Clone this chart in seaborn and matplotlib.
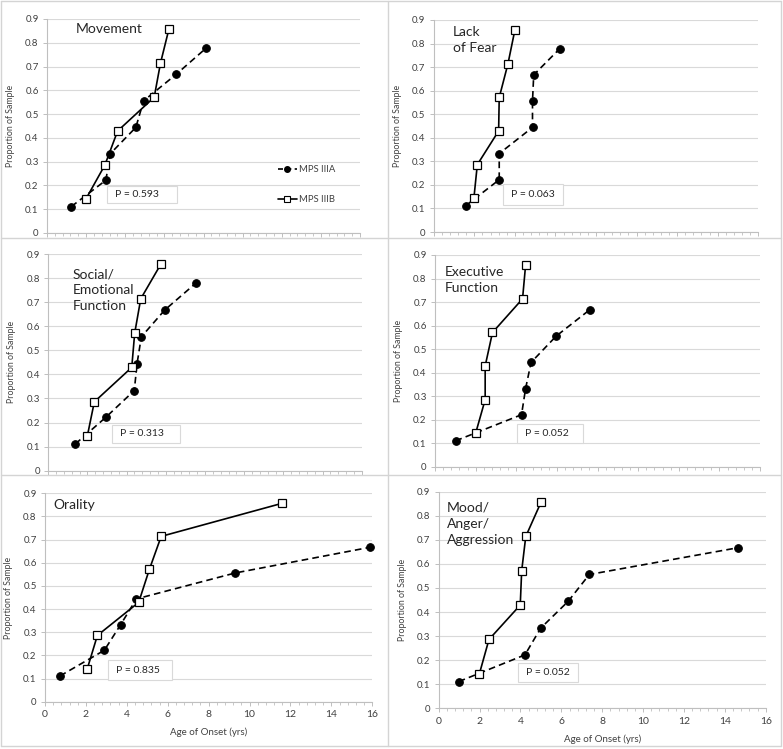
import matplotlib
matplotlib.use('Agg')  # no display available
import matplotlib.pyplot as plt
import matplotlib.ticker as mticker
from matplotlib.lines import Line2D
from matplotlib.patches import Rectangle
import numpy as np
import pandas as pd
import seaborn as sns

# ---- data ----
panel_titles = ["Movement", "Lack\nof Fear", "Social/\nEmotional\nFunction",
                "Executive\nFunction", "Orality", "Mood/\nAnger/\nAggression"]
p_values = ["P = 0.593", "P = 0.063", "P = 0.313", "P = 0.052", "P = 0.835", "P = 0.052"]

iiia_prop_7 = [0.111, 0.222, 0.333, 0.444, 0.556, 0.667, 0.778]
iiia_prop_6 = [0.111, 0.222, 0.333, 0.444, 0.556, 0.667]
iiib_prop = [0.143, 0.286, 0.429, 0.571, 0.714, 0.857]

movement_a_age = [1.24, 3.01, 3.23, 4.54, 4.94, 6.60, 8.14]
movement_b_age = [1.99, 2.96, 3.61, 5.48, 5.80, 6.23]
fear_a_age = [1.57, 3.23, 3.23, 4.87, 4.87, 4.93, 6.21]
fear_b_age = [1.98, 2.15, 3.20, 3.23, 3.66, 4.00]
social_a_age = [1.38, 2.94, 4.39, 4.53, 4.75, 5.94, 7.52]
social_b_age = [1.99, 2.35, 4.26, 4.41, 4.72, 5.74]
exec_a_age = [1.01, 4.26, 4.46, 4.73, 5.97, 7.61]
exec_b_age = [2.00, 2.47, 2.47, 2.83, 4.31, 4.46]
orality_a_age = [0.73, 2.90, 3.70, 4.47, 9.30, 15.90]
orality_b_age = [2.07, 2.56, 4.58, 5.10, 5.68, 11.60]
mood_a_age = [0.98, 4.22, 4.99, 6.33, 7.37, 14.63]
mood_b_age = [1.99, 2.46, 3.99, 4.06, 4.26, 5.01]

iiia_ages = [movement_a_age, fear_a_age, social_a_age, exec_a_age, orality_a_age, mood_a_age]
iiib_ages = [movement_b_age, fear_b_age, social_b_age, exec_b_age, orality_b_age, mood_b_age]
iiia_props = [iiia_prop_7, iiia_prop_7, iiia_prop_7, iiia_prop_6, iiia_prop_6, iiia_prop_6]

y_ticks = [0, 0.1, 0.2, 0.3, 0.4, 0.5, 0.6, 0.7, 0.8, 0.9]
y_tick_labels = ["0", "0.1", "0.2", "0.3", "0.4", "0.5", "0.6", "0.7", "0.8", "0.9"]
x_ticks = [0, 2, 4, 6, 8, 10, 12, 14, 16]

rows = []
for i, title in enumerate(panel_titles):
    for k, (a, p) in enumerate(zip(iiia_ages[i], iiia_props[i])):
        rows.append((i, "MPS IIIA", k, a, p))
    for k, (a, p) in enumerate(zip(iiib_ages[i], iiib_prop)):
        rows.append((i, "MPS IIIB", k, a, p))
df = pd.DataFrame(rows, columns=["panel", "group", "order", "age", "proportion"])

# ---- layout (pixels in the 783x749 image) ----
W, H = 783, 749
# left, top, right, bottom of each plot area
axes_px = [(47, 19, 360, 233), (433.7, 20, 758.3, 232),
           (48.3, 254, 361.7, 470.7), (435, 255, 760, 467),
           (45, 493.3, 372.3, 701.7), (438.7, 491.7, 765.7, 708.3)]
title_px = [(76, 23), (453, 26), (73, 268), (445, 266), (53, 499), (447, 502)]
# p-value boxes in axes fraction: x, y, w, h
pbox = [(0.192, 0.140, 0.224, 0.079), (0.213, 0.127, 0.185, 0.099),
        (0.203, 0.128, 0.217, 0.083), (0.252, 0.113, 0.203, 0.090),
        (0.192, 0.104, 0.196, 0.096), (0.243, 0.121, 0.183, 0.088)]

sns.set_theme(style="white")
plt.rcParams['font.family'] = ['Lato', 'DejaVu Sans']

fig = plt.figure(figsize=(W / 100, H / 100), dpi=100)
fig.patch.set_facecolor("white")

border = "#d4d4d4"
for (x0, y0, x1, y1) in [(1, 1, 781, 1), (1, 746, 781, 746), (1, 238, 781, 238),
                         (1, 475, 781, 475), (388, 1, 388, 746), (1, 1, 1, 746),
                         (781, 1, 781, 746)]:
    fig.add_artist(Line2D([x0 / W, x1 / W], [1 - y0 / H, 1 - y1 / H],
                          color=border, lw=1.0))

axis_grey = "#bfbfbf"
text_grey = "#404040"

for i, (L, T, R, B) in enumerate(axes_px):
    ax = fig.add_axes([L / W, 1 - B / H, (R - L) / W, (B - T) / H])
    sub = df[df["panel"] == i]
    a = sub[sub["group"] == "MPS IIIA"].sort_values("order")
    b = sub[sub["group"] == "MPS IIIB"].sort_values("order")
    sns.lineplot(data=a, x="age", y="proportion", ax=ax, sort=False, estimator=None,
                 color="black", lw=1.2, linestyle=(0, (4, 2.5)), marker="o",
                 markersize=5.5, markeredgecolor="black", markerfacecolor="black",
                 zorder=3, clip_on=False)
    sns.lineplot(data=b, x="age", y="proportion", ax=ax, sort=False, estimator=None,
                 color="black", lw=1.2, linestyle="-", marker="s",
                 markersize=5.5, markeredgecolor="black", markerfacecolor="white",
                 markeredgewidth=0.9, zorder=4, clip_on=False)

    ax.set_xlim(0, 16)
    ax.set_ylim(0, 0.9)
    ax.set_xticks(x_ticks)
    ax.xaxis.set_minor_locator(mticker.AutoMinorLocator(5))
    ax.set_yticks(y_ticks)
    ax.set_yticklabels(y_tick_labels)
    ax.grid(axis="y", color="#d9d9d9", lw=0.8)
    ax.set_axisbelow(True)
    for s in ["top", "right"]:
        ax.spines[s].set_visible(False)
    for s in ["left", "bottom"]:
        ax.spines[s].set_color(axis_grey)
        ax.spines[s].set_linewidth(0.8)
    ax.tick_params(axis="both", which="major", length=3, width=0.7, color=axis_grey,
                   labelcolor=text_grey, labelsize=7, pad=3, left=True, bottom=True)
    ax.tick_params(axis="x", which="minor", length=2, width=0.6, color=axis_grey, bottom=True)

    ax.set_ylabel("Proportion of Sample", fontsize=6.3, color=text_grey)
    ax.yaxis.set_label_coords(-32 / (R - L), 0.5)
    if i >= 4:
        ax.set_xlabel("Age of Onset (yrs)", fontsize=7, color=text_grey)
        ax.xaxis.set_label_coords(0.5, -26 / (B - T))
        ax.tick_params(axis="x", labelsize=7.5)
    else:
        ax.set_xlabel("")
        ax.tick_params(axis="x", labelbottom=False)

    bx, by, bw, bh = pbox[i]
    ax.add_patch(Rectangle((bx, by), bw, bh, transform=ax.transAxes, facecolor="white",
                           edgecolor="#d9d9d9", lw=0.8, zorder=2))
    ax.text(bx + 8 / (R - L), by + bh / 2, p_values[i], transform=ax.transAxes,
            fontsize=7.5, color="#262626", va="center", ha="left", zorder=5)

    tx, ty = title_px[i]
    fig.text(tx / W, 1 - ty / H, panel_titles[i], fontsize=10, color="#262626",
             va="top", ha="left", linespacing=1.4)

    if i == 0:
        handles = [Line2D([], [], color="black", lw=1.2, linestyle=(0, (3, 2)), marker="o",
                          markersize=4, markerfacecolor="black"),
                   Line2D([], [], color="black", lw=1.2, linestyle="-", marker="s",
                          markersize=4, markerfacecolor="white", markeredgewidth=0.8)]
        ax.legend(handles, ["MPS IIIA", "MPS IIIB"], loc="center left",
                  bbox_to_anchor=(0.71, 0.227), frameon=False, fontsize=6.8,
                  handlelength=2.0, handletextpad=0.2, labelspacing=2.2,
                  labelcolor=text_grey)
    else:
        if ax.get_legend() is not None:
            ax.get_legend().remove()

fig.savefig("out.png", dpi=100, facecolor="white")
plt.close(fig)
